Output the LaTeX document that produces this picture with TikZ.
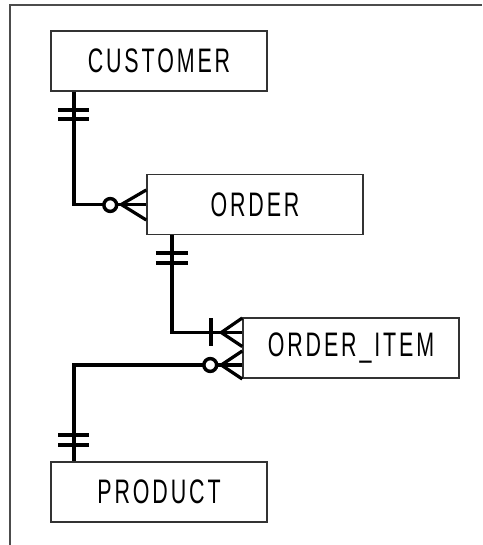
\documentclass[tikz,border=0pt]{standalone}
\usepackage{fontspec}
\setmainfont{Liberation Sans}[FakeStretch=0.63,LetterSpace=8.5]
\usetikzlibrary{calc}
\begin{document}
\begin{tikzpicture}[x=1pt,y=-1pt,
  ent/.style={draw=black!80,line width=1.5pt,fill=white,minimum width=216pt,minimum height=60pt,inner sep=0pt,font=\fontsize{34}{40}\selectfont},
  rel/.style={line width=3.8pt,black},
  crow/.style={line width=3.2pt,black},
  ring/.style={line width=3.5pt,black,fill=white},
  frame/.style={line width=1.5pt,black!70}]
\useasboundingbox (0,0) rectangle (482,545);
\draw[frame] (10,545) -- (10,5) -- (482,5);
\node[ent] (cust) at (159,61) {CUSTOMER};
\node[ent] (ord) at (255,204.5) {ORDER};
\node[ent] (oi) at (351,348) {ORDER\_ITEM};
\node[ent] (prod) at (159,492) {PRODUCT};
% CUSTOMER -- ORDER
\coordinate (c1) at ($(cust.south west)+(24,0)$);
\draw[rel] (c1) |- (ord.west);
\draw[rel] ($(c1)+(-16,18)$) -- ++(31,0);
\draw[rel] ($(c1)+(-16,27)$) -- ++(31,0);
\draw[crow] ($(ord.west)+(0,-14.5)$) -- ($(ord.west)+(-25,0)$) -- ($(ord.west)+(0,15.5)$);
\draw[ring] ($(ord.west)+(-36,0.5)$) circle (6.4);
% ORDER -- ORDER_ITEM
\coordinate (c2) at ($(ord.south west)+(25.7,0)$);
\coordinate (oi1) at ($(oi.west)+(0,-15.5)$);
\draw[rel] (c2) |- (oi1);
\draw[rel] ($(c2)+(-16,18)$) -- ++(32,0);
\draw[rel] ($(c2)+(-16,28)$) -- ++(32,0);
\draw[crow] ($(oi1)+(-31.3,-14.5)$) -- ++(0,28);
\draw[crow] ($(oi1)+(0,-14.5)$) -- ($(oi1)+(-21,0)$) -- ($(oi1)+(0,14)$);
% PRODUCT -- ORDER_ITEM
\coordinate (oi2) at ($(oi.west)+(0,17)$);
\coordinate (c3) at ($(prod.north west)+(24,0)$);
\draw[rel] (oi2) -| (c3);
\draw[rel] ($(c3)+(-16,-26.5)$) -- ++(31,0);
\draw[rel] ($(c3)+(-16,-16.5)$) -- ++(31,0);
\draw[crow] ($(oi2)+(0,-14)$) -- ($(oi2)+(-21,0)$) -- ($(oi2)+(0,14)$);
\draw[ring] ($(oi2)+(-32,0)$) circle (6.4);
\end{tikzpicture}
\end{document}
